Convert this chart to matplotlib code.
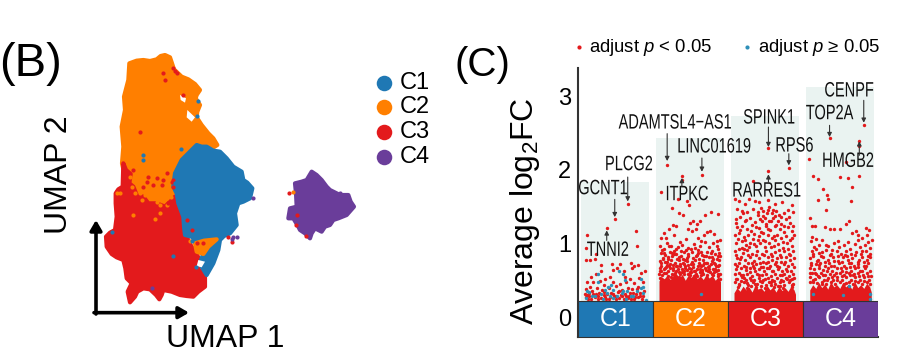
import matplotlib
matplotlib.use("Agg")
import matplotlib.pyplot as plt
from matplotlib.path import Path
from matplotlib.patheffects import AbstractPathEffect
from matplotlib.transforms import Affine2D, Bbox

W, H = 915, 353
plt.rcParams['font.family'] = ['Liberation Sans', 'DejaVu Sans']
plt.rcParams['mathtext.fontset'] = 'custom'
plt.rcParams['mathtext.rm'] = 'Liberation Sans'
plt.rcParams['mathtext.it'] = 'Liberation Sans:italic'
plt.rcParams['mathtext.default'] = 'regular'

BLUE, ORANGE, RED, PURPLE = '#1F78B4', '#FF7F00', '#E31A1C', '#6A3D9A'
clusters = ['C1', 'C2', 'C3', 'C4']
cluster_colors = [BLUE, ORANGE, RED, PURPLE]

# ---- UMAP cluster outlines (plot units) ----
orange_outline = [(388,100),(410,92),(430,90),(450,93),(470,88),(482,78),(495,75),(510,82),(516,100),(522,118),(545,140),(565,148),
                  (585,162),(600,180),(590,195),(587,205),(600,225),(592,245),(590,262),(605,285),(625,310),(640,325),(652,345),
                  (620,365),(590,385),(560,420),(525,440),(525,480),(510,510),(495,525),(480,530),(465,520),(440,530),(420,510),
                  (400,500),(385,470),(375,440),(366,400),(370,350),(365,290),(375,240),(372,200),(385,150)]
red_outline = [(370,400),(378,420),(392,432),(388,460),(400,470),(410,495),(430,500),(445,520),(470,520),(495,530),(525,500),
               (535,525),(540,540),(555,580),(560,620),(572,645),(585,665),(600,690),(590,710),(600,722),(615,735),(615,770),
               (595,785),(580,800),(560,798),(540,795),(515,785),(490,780),(485,795),(478,808),(468,795),(450,778),(430,775),
               (412,785),(405,800),(390,817),(383,785),(395,760),(380,745),(376,715),(370,690),(350,682),(335,672),(320,650),
               (318,620),(330,608),(345,600),(350,560),(347,520),(347,490),(355,478),(368,470)]
blue_outline = [(590,345),(605,350),(620,350),(640,362),(660,365),(680,385),(700,410),(725,425),(730,450),(742,458),(757,475),
                (750,505),(730,515),(715,520),(705,550),(710,585),(698,600),(690,610),(672,618),(660,630),(655,660),(640,700),
                (620,735),(605,710),(600,700),(610,670),(590,640),(575,620),(555,615),(552,590),(550,560),(535,520),(530,490),
                (520,470),(525,430),(535,410),(545,390),(570,365)]
orange_islet = [(585,640),(612,632),(650,628),(625,650),(610,672),(590,665)]
purple_outline = [(885,460),(905,455),(920,450),(935,425),(950,435),(965,450),(980,470),(990,480),(1020,495),(1045,495),(1052,515),
                  (1062,530),(1040,555),(1015,565),(1000,570),(990,585),(975,590),(965,605),(945,595),(935,610),(930,625),
                  (915,610),(900,600),(895,590),(880,565),(865,565),(870,535),(890,530),(888,490)]
white_gaps = [[(540,195),(558,205),(555,218),(542,210)],
              [(562,240),(585,262),(575,275),(560,262)],
              [(595,690),(615,695),(605,712),(590,708)]]
orange_spots = [(480,525),(500,525),(405,490),(440,470),(465,470),(470,490),(415,455),(450,500),(492,490),(510,480),
                (360,490),(880,485),(425,510),(480,550),(465,568),(400,555),(570,632),(600,660),(395,470),(420,490),
                (435,495),(455,480),(480,470),(500,505),(470,515),(495,470),(512,500),(390,440),(405,440),(350,490)]
red_spots = [(525,122),(530,128),(520,115),(490,130),(495,150),(420,305),(490,450),(520,450),(550,195),(460,465),(430,470),(683,622),
             (695,635),(868,490),(888,585),(917,618),(890,555),(575,600),(590,640),(610,640),(560,570),(505,520),
             (445,440),(470,445),(500,430),(520,470),(400,420),(440,455),(485,465),(515,455)]
blue_spots = [(595,213),(592,257),(543,358),(428,375),(428,390),(335,605),(590,372),(525,460),(588,712),(520,678),(575,632)]
purple_spots = [(760,503),(700,620),(710,620),(695,628),(455,775),(1020,488)]

# ---- log fold-change points: (position, average log2FC) ----
c1_sig = [(.668,1.54),(.49,1.33),(.383,1.21),(.116,1.11),(.77,1.17),(.78,.97),(.10,.94),(.245,.86),(.10,.78),(.156,.78),
          (.227,.79),(.30,.71),(.45,.72),(.56,.72),(.70,.73),(.75,.70),(.80,.71),(.89,.62),(.31,.62),(.47,.64),
          (.52,.66),(.61,.63),(.72,.67),(.84,.60),(.17,.55),(.24,.58),(.36,.52),(.43,.55),(.62,.55),(.69,.52),
          (.81,.53),(.12,.47),(.20,.47),(.29,.49),(.35,.44),(.47,.47),(.56,.45),(.64,.47),(.75,.46),(.86,.48),
          (.10,.38),(.16,.41),(.25,.40),(.32,.37),(.41,.39),(.50,.42),(.59,.37),(.66,.40),(.72,.38),(.80,.41),
          (.88,.36),(.09,.31),(.14,.33),(.19,.35),(.24,.31),(.28,.33),(.34,.30),(.39,.32),(.44,.33),(.48,.29),
          (.53,.34),(.57,.30),(.62,.32),(.68,.29),(.73,.33),(.77,.31),(.83,.33),(.87,.29),(.11,.27),(.17,.25),
          (.22,.27),(.30,.26),(.37,.24),(.43,.27),(.50,.25),(.55,.26),(.61,.24),(.67,.26),(.74,.25),(.80,.27),
          (.85,.24),(.15,.29),(.26,.24),(.41,.25),(.59,.28),(.71,.24),(.13,.25),(.20,.31),(.27,.29),(.36,.27),
          (.46,.31),(.51,.29),(.64,.28),(.69,.33),(.76,.27),(.82,.29),(.12,.30),(.35,.34),(.55,.36),(.78,.38)]
c1_ns = [(.27,.58),(.54,.63),(.60,.59),(.84,.52),(.63,.50),(.27,.48),(.40,.41),(.44,.43),(.12,.36),(.15,.34),
         (.36,.37),(.38,.33),(.47,.37),(.60,.36),(.65,.35),(.84,.40),(.87,.41),(.22,.29),(.30,.31),(.42,.29),
         (.52,.28),(.58,.33),(.73,.29),(.79,.35),(.10,.26),(.18,.28),(.33,.25),(.46,.26),(.64,.25),(.70,.28),(.86,.33),(.90,.23)]
c2_sig = [(1.189,2.07),(1.652,1.93),(1.385,1.91),(1.385,1.855),(1.109,1.70),(1.252,1.48),(1.35,1.41),(1.394,1.39),
          (1.483,1.525),(1.688,1.39),(1.773,1.42),(1.871,1.40),(1.33,1.60),(1.45,1.57),(1.49,1.28),(1.53,1.31),
          (1.58,1.27),(1.62,1.30),(1.47,1.20),(1.52,1.17),(1.57,1.20),(1.14,1.14),(1.21,1.19),(1.27,1.25),(1.30,1.24),
          (1.10,1.08),(1.17,1.07),(1.28,1.11),(1.36,1.02),(1.44,1.06),(1.60,1.08),(1.68,1.12),(1.72,1.15),(1.76,1.17),
          (1.81,1.13),(1.85,1.03),(1.89,1.05),(1.09,.97),(1.14,.93),(1.19,1.00),(1.24,.96),(1.31,.93),(1.39,.98),
          (1.47,.94),(1.54,.99),(1.62,.96),(1.69,1.02),(1.75,.95),(1.80,1.00),(1.87,.93),(1.10,.87),(1.16,.84),
          (1.22,.88),(1.28,.85),(1.34,.82),(1.41,.88),(1.47,.83),(1.52,.88),(1.58,.84),(1.64,.88),(1.71,.83),(1.77,.87),
          (1.83,.85),(1.89,.83),(1.09,.76),(1.13,.79),(1.18,.75),(1.24,.78),(1.29,.74),(1.35,.77),(1.40,.73),(1.45,.76),
          (1.50,.72),(1.56,.77),(1.61,.74),(1.66,.78),(1.72,.73),(1.78,.76),(1.83,.72),(1.88,.77),(1.11,.70),(1.16,.67),
          (1.21,.70),(1.26,.66),(1.32,.69),(1.38,.65),(1.43,.69),(1.48,.66),(1.53,.68),(1.59,.65),(1.64,.70),(1.69,.66),
          (1.75,.69),(1.80,.65),(1.86,.69),(1.09,.63),(1.14,.60),(1.20,.63),(1.25,.59),(1.30,.62),(1.36,.58),(1.41,.62),
          (1.46,.59),(1.51,.61),(1.57,.58),(1.62,.61),(1.67,.58),(1.73,.62),(1.78,.58),(1.84,.62),(1.89,.59),
          (1.123,.913),(1.157,.742),(1.204,.816),(1.263,.637),(1.318,.795),(1.371,.891),(1.428,.668),(1.463,.856),
          (1.516,.743),(1.547,.624),(1.603,.912),(1.629,.702),(1.677,.824),(1.738,.677),(1.793,.903),(1.817,.734),
          (1.858,.782),(1.098,.668),(1.172,.602),(1.233,.727),(1.283,.903),(1.342,.611),(1.397,.783),(1.488,.609),
          (1.574,.829),(1.652,.642),(1.706,.734),(1.763,.616),(1.832,.654),(1.874,.866),(1.148,.869),(1.216,.968),
          (1.336,.947),(1.424,.772),(1.563,.931),(1.642,1.03),(1.725,.889),(1.847,.96),(1.106,.735),(1.187,.704),
          (1.252,.832),(1.306,.693),(1.366,.716),(1.442,.917),(1.532,.807),(1.613,.79),(1.668,.71),(1.783,.82),
          (1.873,.59),(1.126,.575),(1.196,.563),(1.277,.572),(1.352,.549),(1.412,.581),(1.497,.568),(1.586,.553),
          (1.634,.573),(1.718,.566),(1.806,.575),(1.864,.553),(1.08,.58),(1.09,.53),(1.89,.52),(1.24,.55),(1.55,.56),
          (1.102,.627),(1.141,.652),(1.176,.681),(1.221,.662),(1.268,.713),(1.294,.602),(1.327,.647),(1.359,.692),
          (1.388,.612),(1.417,.723),(1.449,.634),(1.472,.703),(1.505,.647),(1.538,.716),(1.566,.628),(1.597,.694),
          (1.622,.659),(1.658,.614),(1.683,.738),(1.712,.641),(1.746,.653),(1.771,.723),(1.808,.617),(1.836,.696),
          (1.862,.634),(1.884,.712),(1.128,.806),(1.196,.782),(1.247,.874),(1.312,.852),(1.379,.823),(1.456,.807),
          (1.507,.923),(1.595,.867),(1.657,.843),(1.741,.812),(1.802,.794),(1.868,.823)]
c2_ns = [(1.64,.32)]
c3_sig = [(2.539,2.30),(2.811,2.02),(2.539,1.98),(2.33,1.84),(2.53,1.59),(2.36,1.58),(2.09,1.60),(2.15,1.58),(2.22,1.54),
          (2.28,1.60),(2.42,1.56),(2.62,1.54),(2.72,1.56),(2.85,1.52),(2.12,1.47),(2.18,1.44),(2.26,1.42),(2.33,1.47),
          (2.40,1.38),(2.47,1.44),(2.53,1.46),(2.58,1.41),(2.64,1.44),(2.68,1.38),(2.75,1.41),(2.80,1.45),(2.87,1.43),
          (2.10,1.33),(2.16,1.36),(2.22,1.30),(2.29,1.34),(2.36,1.29),(2.43,1.33),(2.49,1.35),(2.54,1.30),(2.60,1.35),
          (2.66,1.31),(2.71,1.27),(2.77,1.33),(2.83,1.28),(2.12,1.22),(2.19,1.24),(2.25,1.20),(2.31,1.17),(2.38,1.22),
          (2.44,1.16),(2.50,1.24),(2.56,1.18),(2.62,1.23),(2.69,1.19),(2.74,1.16),(2.80,1.22),(2.86,1.17),(2.09,1.11),
          (2.15,1.14),(2.21,1.09),(2.27,1.12),(2.34,1.06),(2.41,1.10),(2.47,1.05),(2.53,1.12),(2.59,1.07),(2.65,1.12),
          (2.71,1.07),(2.77,1.10),(2.83,1.05),(2.88,1.12),(2.11,1.00),(2.18,1.03),(2.24,.98),(2.30,1.01),(2.37,.96),
          (2.43,1.00),(2.49,.95),(2.55,1.01),(2.61,.97),(2.67,.99),(2.73,.94),(2.79,1.01),(2.85,.96),(2.09,.90),
          (2.14,.92),(2.20,.87),(2.26,.91),(2.32,.86),(2.39,.90),(2.45,.85),(2.51,.90),(2.57,.86),(2.63,.89),(2.69,.84),
          (2.75,.90),(2.81,.86),(2.87,.90),(2.12,.80),(2.17,.82),(2.23,.78),(2.29,.81),(2.35,.76),(2.41,.80),(2.47,.75),
          (2.53,.81),(2.59,.77),(2.65,.80),(2.71,.75),(2.77,.81),(2.83,.77),(2.88,.80),(2.09,.72),(2.15,.74),(2.21,.70),
          (2.27,.73),(2.33,.69),(2.38,.72),(2.44,.68),(2.50,.73),(2.56,.69),(2.62,.72),(2.68,.68),(2.74,.72),(2.80,.69),
          (2.86,.72),(2.11,.65),(2.17,.67),(2.24,.64),(2.30,.66),(2.36,.63),(2.42,.65),(2.48,.62),(2.54,.66),(2.60,.63),
          (2.66,.65),(2.72,.62),(2.78,.65),(2.84,.63),(2.09,.58),(2.14,.60),(2.20,.57),(2.26,.59),(2.32,.56),(2.39,.59),
          (2.45,.57),(2.51,.59),(2.57,.56),(2.63,.59),(2.69,.57),(2.75,.59),(2.81,.56),(2.87,.59),(2.12,.52),(2.18,.54),
          (2.24,.51),(2.29,.53),(2.35,.50),(2.41,.53),(2.47,.51),(2.53,.53),(2.59,.50),(2.65,.53),(2.71,.51),(2.77,.53),
          (2.83,.50),(2.88,.53),(2.09,.47),(2.15,.45),(2.21,.47),(2.27,.44),(2.33,.47),(2.39,.45),(2.45,.47),(2.51,.44),
          (2.57,.47),(2.63,.45),(2.69,.47),(2.75,.44),(2.81,.47),(2.87,.45),(2.13,.41),(2.25,.40),(2.37,.41),(2.49,.40),
          (2.61,.41),(2.73,.40),(2.85,.41),
          (2.396,1.423),(2.437,1.487),(2.463,1.372),(2.518,1.408),(2.552,1.492),(2.597,1.453),(2.623,1.376),(2.447,1.298),
          (2.512,1.262),(2.574,1.307),(2.638,1.252),(2.108,1.274),(2.163,1.178),(2.204,1.406),(2.243,1.322),(2.317,1.251),
          (2.352,1.133),(2.413,1.206),(2.472,1.143),(2.534,1.202),(2.612,1.096),(2.703,1.358),(2.746,1.241),(2.813,1.362),
          (2.868,1.241),(2.132,1.063),(2.186,.936),(2.228,1.043),(2.283,.956),(2.343,.987),(2.404,1.042),(2.489,1.026),
          (2.568,.953),(2.627,1.041),(2.677,.917),(2.736,1.022),(2.796,.923),(2.852,1.067),(2.103,.841),(2.157,.786),
          (2.212,.923),(2.273,.842),(2.326,.738),(2.377,.842),(2.426,.732),(2.483,.838),(2.516,.668),(2.586,.826),(2.642,.744),
          (2.703,.812),(2.762,.742),(2.823,.838),(2.874,.683),(2.125,.687),(2.178,.576),(2.236,.677),(2.294,.612),(2.353,.672),
          (2.412,.566),(2.463,.682),(2.527,.743),(2.583,.622),(2.648,.687),(2.724,.573),(2.786,.621),(2.857,.513),(2.106,.514),
          (2.167,.493),(2.219,.527),(2.258,.463),(2.312,.507),(2.366,.453),(2.423,.486),(2.492,.512),(2.547,.472),(2.612,.487),
          (2.668,.428),(2.733,.489),(2.792,.515),(2.848,.438),(2.144,.437),(2.306,.428),(2.444,.426),(2.576,.431),(2.694,.423)]
c4_sig = [(3.81,2.60),(3.354,2.43),(3.751,2.39),(3.75,2.32),(3.08,2.15),(3.57,2.10),(3.13,1.92),(3.20,1.87),(3.50,1.90),
          (3.60,1.89),(3.75,1.92),(3.66,1.77),(3.27,1.74),(3.32,1.65),(3.33,1.60),(3.20,1.59),(3.64,1.58),(3.31,1.46),
          (3.09,1.35),(3.61,1.30),(3.57,1.26),(3.12,1.24),(3.16,1.23),(3.30,1.22),(3.36,1.19),(3.42,1.20),(3.50,1.19),
          (3.71,1.17),(3.84,1.21),(3.88,1.18),(3.12,1.09),(3.17,1.06),(3.11,1.03),(3.65,1.14),(3.74,1.12),(3.79,1.08),
          (3.86,1.12),(3.92,1.05),(3.26,1.04),(3.22,.98),(3.34,.96),(3.42,1.00),(3.48,.95),(3.55,.98),(3.63,.93),(3.70,.99),
          (3.76,.95),(3.83,.98),(3.89,.94),(3.12,.90),(3.18,.92),(3.25,.88),(3.31,.91),(3.38,.86),(3.45,.90),(3.51,.85),
          (3.58,.90),(3.64,.86),(3.71,.89),(3.77,.85),(3.84,.90),(3.90,.86),(3.09,.80),(3.14,.83),(3.20,.78),(3.27,.82),
          (3.33,.77),(3.40,.81),(3.47,.76),(3.53,.81),(3.60,.77),(3.66,.80),(3.73,.75),(3.79,.81),(3.86,.77),(3.90,.81),
          (3.11,.74),(3.17,.72),(3.23,.74),(3.29,.70),(3.35,.73),(3.42,.69),(3.48,.73),(3.55,.69),(3.61,.73),(3.68,.69),
          (3.74,.72),(3.81,.69),(3.87,.73),(3.09,.67),(3.15,.65),(3.21,.67),(3.27,.64),(3.33,.66),(3.39,.63),(3.45,.66),
          (3.52,.63),(3.58,.66),(3.64,.63),(3.70,.66),(3.76,.63),(3.83,.66),(3.89,.63),(3.12,.60),(3.18,.58),(3.24,.60),
          (3.30,.57),(3.36,.59),(3.42,.57),(3.49,.60),(3.55,.57),(3.61,.60),(3.67,.57),(3.73,.60),(3.80,.57),(3.86,.60),
          (3.10,.54),(3.16,.52),(3.22,.54),(3.28,.51),(3.34,.53),(3.40,.51),(3.46,.54),(3.52,.51),(3.58,.54),(3.64,.51),
          (3.70,.54),(3.76,.51),(3.82,.54),(3.88,.51),(3.13,.48),(3.19,.46),(3.25,.48),(3.31,.45),(3.37,.47),(3.43,.45),
          (3.49,.48),(3.55,.45),(3.61,.48),(3.67,.45),(3.73,.48),(3.79,.45),(3.85,.48),(3.90,.45),
          (3.127,.853),(3.183,.762),(3.242,.826),(3.287,.743),(3.354,.847),(3.412,.768),(3.462,.827),(3.523,.744),(3.587,.823),
          (3.642,.728),(3.693,.837),(3.752,.778),(3.816,.743),(3.872,.832),(3.106,.712),(3.156,.604),(3.214,.713),(3.262,.574),
          (3.316,.632),(3.373,.688),(3.434,.602),(3.503,.672),(3.567,.612),(3.624,.683),(3.684,.587),(3.738,.677),(3.793,.626),
          (3.846,.694),(3.903,.562),(3.137,.507),(3.203,.562),(3.257,.452),(3.322,.507),(3.386,.542),(3.447,.498),(3.514,.562),
          (3.572,.463),(3.632,.572),(3.694,.488),(3.753,.558),(3.812,.487),(3.873,.562),(3.148,.957),(3.303,.973),(3.463,1.03),
          (3.603,1.02),(3.727,1.04),(3.866,1.02),(3.218,.87),(3.392,.912),(3.558,.843),(3.782,.893),(3.094,.603),(3.094,.47)]
c4_ns = [(3.13,.32),(3.54,.30),(3.61,.42),(3.89,.32),(3.90,.25)]

# Solid lower part of each column: position, upper log2FC
c2_band_x = [1.08,1.11,1.15,1.19,1.23,1.27,1.31,1.35,1.39,1.43,1.47,1.51,1.55,1.59,1.63,1.67,1.71,1.75,1.79,1.83,1.87,1.90]
c2_band_y = [.49,.55,.52,.57,.51,.56,.59,.53,.58,.50,.57,.54,.59,.52,.56,.51,.58,.53,.57,.50,.55,.48]
c3_band_x = [2.08,2.12,2.16,2.20,2.24,2.28,2.32,2.36,2.40,2.44,2.48,2.52,2.56,2.60,2.64,2.68,2.72,2.76,2.80,2.84,2.88,2.90]
c3_band_y = [.33,.40,.35,.42,.37,.41,.34,.43,.38,.40,.35,.43,.37,.41,.34,.42,.36,.40,.35,.42,.37,.31]
c4_band_x = [3.09,3.13,3.17,3.21,3.25,3.29,3.33,3.37,3.41,3.45,3.49,3.53,3.57,3.61,3.65,3.69,3.73,3.77,3.81,3.85,3.89,3.91]
c4_band_y = [.37,.44,.39,.47,.40,.45,.38,.48,.41,.44,.39,.47,.41,.45,.38,.48,.40,.44,.39,.46,.41,.34]

column_tops = [1.83, 2.43, 2.73, 3.12]
column_centers = [0.49, 1.49, 2.49, 3.49]

# label, label x, label y, arrow x, arrow tail, arrow head
gene_labels = [('GCNT1', .334, 1.742, .49, 1.597, 1.357), ('PLCG2', .677, 2.068, .663, 1.90, 1.570),
               ('TNNI2', .401, .905, .383, 1.041, 1.176), ('ADAMTSL4\u2212AS1', 1.301, 2.633, 1.189, 2.489, 2.118),
               ('LINC01619', 1.817, 2.308, 1.652, 2.158, 1.973), ('ITPKC', 1.452, 1.661, 1.385, 1.774, 1.887),
               ('SPINK1', 2.552, 2.701, 2.539, 2.579, 2.308), ('RPS6', 2.886, 2.321, 2.811, 2.217, 2.059),
               ('RARRES1', 2.517, 1.71, 2.539, 1.819, 1.937), ('TOP2A', 3.354, 2.76, 3.354, 2.602, 2.443),
               ('CENPF', 3.617, 3.068, 3.81, 2.941, 2.638), ('HMGB2', 3.6, 2.113, 3.751, 2.195, 2.385)]
SQUEEZE = 0.70


class Squeeze(AbstractPathEffect):
    """Condense a text horizontally around its own centre."""
    def __init__(self, sx):
        super().__init__()
        self.sx = sx

    def draw_path(self, renderer, gc, tpath, affine, rgbFace=None):
        box = affine.transform_path(Path(tpath.vertices, tpath.codes)).get_extents()
        cx = (box.x0 + box.x1) / 2
        renderer.draw_path(gc, tpath, affine + Affine2D().translate(-cx, 0).scale(self.sx, 1).translate(cx, 0), rgbFace)


def condense(text, sx):
    """Apply the squeeze and report the extent the squeezed text really takes."""
    text.set_path_effects([Squeeze(sx)])
    original = text.get_window_extent

    def extent(renderer=None, dpi=None):
        b = original(renderer, dpi)
        cx, half = (b.x0 + b.x1) / 2, (b.x1 - b.x0) / 2 * sx
        return Bbox([[cx - half, b.y0], [cx + half, b.y1]])
    text.get_window_extent = extent


fig = plt.figure(figsize=(W / 100, H / 100), dpi=100)

# ---------- Panel B ----------
axb = fig.add_axes([0, 0, 450 / W, 323 / H])
axb.set_xlim(0, 1350)
axb.set_ylim(969, 0)
axb.axis('off')
for outline, col, z in [(orange_outline, ORANGE, 1), (red_outline, RED, 2), (blue_outline, BLUE, 3),
                        (orange_islet, ORANGE, 4), (purple_outline, PURPLE, 4)]:
    axb.fill(*zip(*outline), color=col, lw=3, joinstyle='round', zorder=z)
for gap in white_gaps:
    axb.fill(*zip(*gap), color='white', lw=0, zorder=5)
for spots, col in [(orange_spots, ORANGE), (red_spots, RED), (blue_spots, BLUE), (purple_spots, PURPLE)]:
    axb.scatter(*zip(*spots), s=9, color=col, lw=0, zorder=6)
arrow = dict(arrowstyle='-|>,head_width=0.35,head_length=0.6', color='black', lw=2.6, shrinkA=0, shrinkB=0)
axb.annotate('', xy=(288, 570), xytext=(288, 852), arrowprops=arrow)
axb.annotate('', xy=(567, 848), xytext=(282, 848), arrowprops=arrow)
for i, (name, col) in enumerate(zip(clusters, cluster_colors)):
    yy = 158 + 74 * i
    axb.scatter([1151], [yy], s=125, color=col, lw=0)
    axb.text(1200, yy, name, fontsize=17, va='center', ha='left')
axb.text(178, 433, 'UMAP 2', rotation=90, fontsize=23, ha='center', va='center')
axb.text(675, 928, 'UMAP 1', fontsize=23, ha='center', va='center', clip_on=False)
axb.text(92, 102, '(B)', fontsize=34, ha='center', va='center')

# ---------- Panel C ----------
axc = fig.add_axes([578 / W, 1 - 337 / H, 300 / W, 269 / H])
axc.set_xlim(0, 4)
axc.set_ylim(-0.27, 3.38)
axc.patch.set_alpha(0)
for s in ('top', 'right'):
    axc.spines[s].set_visible(False)
for s in ('left', 'bottom'):
    axc.spines[s].set_color('#333333')
    axc.spines[s].set_linewidth(1.5)
axc.bar(column_centers, column_tops, width=0.905, color='#EAF3F1', zorder=1)
for bx, by in [(c2_band_x, c2_band_y), (c3_band_x, c3_band_y), (c4_band_x, c4_band_y)]:
    axc.fill_between(bx, 0.2, by, color=RED, lw=0, zorder=2)
for pts in (c1_sig, c2_sig, c3_sig, c4_sig):
    axc.scatter(*zip(*pts), s=6, color=RED, lw=0, zorder=3)
for pts in (c1_ns, c2_ns, c4_ns):
    axc.scatter(*zip(*pts), s=6, color='#2E8FB8', lw=0, zorder=4)
for i, (name, col) in enumerate(zip(clusters, cluster_colors)):
    axc.bar(i + 0.5, 0.487, bottom=-0.27, width=1, color=col, edgecolor='#333333', lw=0.8, zorder=5)
    axc.text(i + 0.5, -0.025, name, color='white', fontsize=18, ha='center', va='center', zorder=6)
axc.set_xticks([])
axc.set_yticks([0, 1, 2, 3])
axc.tick_params(axis='y', length=0, labelsize=17, pad=5)
for label, lx, ly, ax_, tail, head in gene_labels:
    t = axc.text(lx, ly, label, fontsize=15, ha='center', va='center', color='#111111', zorder=7, clip_on=False)
    condense(t, SQUEEZE)
    axc.annotate('', xy=(ax_, head), xytext=(ax_, tail), zorder=7,
                 arrowprops=dict(arrowstyle='-|>,head_width=0.13,head_length=0.25', color='#333333', lw=0.8,
                                 shrinkA=0, shrinkB=0))
axc.scatter([0.01], [3.66], s=9, color=RED, lw=0, clip_on=False)
axc.scatter([2.26], [3.66], s=9, color='#2E8FB8', lw=0, clip_on=False)
axc.text(.143, 3.66, 'adjust $\\mathit{p}$ < 0.05', fontsize=13.3, va='center', clip_on=False)
axc.text(2.396, 3.66, 'adjust $\\mathit{p}$ \u2265 0.05', fontsize=13.3, va='center', clip_on=False)
fig.text(525 / W, 1 - 211 / H, 'Average log$_2$FC', rotation=90, fontsize=23, ha='center', va='center')
fig.text(482 / W, 1 - 65 / H, '(C)', fontsize=29, ha='center', va='center')

fig.savefig('out.png', dpi=100)
